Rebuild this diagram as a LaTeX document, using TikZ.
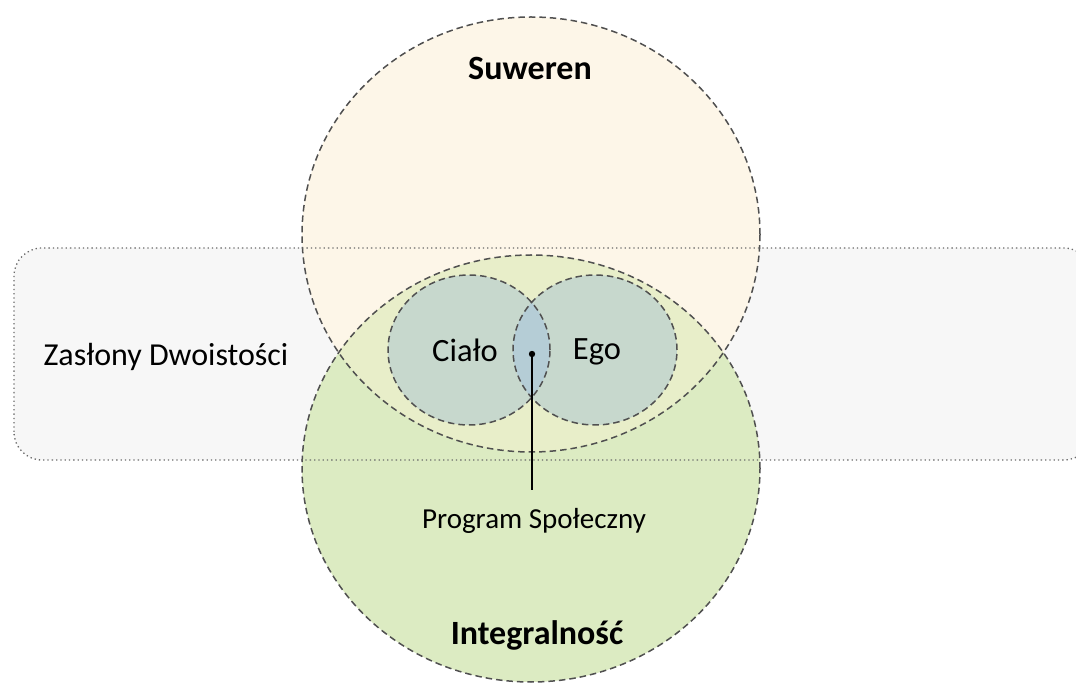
\documentclass[tikz,border=0pt]{standalone}
\usepackage{fontspec}
\setmainfont{Carlito}
\usetikzlibrary{shapes.geometric}

\definecolor{creamfill}{HTML}{FDF6E8}
\definecolor{greenfill}{HTML}{DCEBC2}
\definecolor{mixfill}{HTML}{E8EEC9}
\definecolor{innerfill}{HTML}{C7D8CD}
\definecolor{lensfill}{HTML}{B5CDD6}
\definecolor{veilfill}{HTML}{F7F7F7}
\definecolor{edgegray}{HTML}{505050}
\definecolor{veilgray}{HTML}{6A6A6A}

\tikzset{
  dashedge/.style={draw=edgegray, line width=1.5pt, dash pattern=on 6.5pt off 4pt},
  veiledge/.style={draw=veilgray, line width=1.3pt, dash pattern=on 1.3pt off 3pt},
  biglabel/.style={font=\fontsize{34}{40}\selectfont\bfseries, inner sep=0pt},
  midlabel/.style={font=\fontsize{32.5}{38}\selectfont, inner sep=0pt},
  veillabel/.style={font=\fontsize{32}{38}\selectfont, inner sep=0pt},
  smalllabel/.style={font=\fontsize{29}{34}\selectfont, inner sep=0pt},
}

\begin{document}
\begin{tikzpicture}[x=1pt, y=1pt]
\useasboundingbox (0,0) rectangle (1076,683);
\clip (0,0) rectangle (1076,683);

% veil band (fill only, its outline goes on top later)
\fill[veilfill, rounded corners=28pt] (14,223) rectangle (1092,435);

% the two large ellipses
\fill[creamfill] (531,448.5) ellipse [x radius=229, y radius=217.5];
\fill[greenfill] (531,214.5) ellipse [x radius=229, y radius=213.5];
\begin{scope}
  \clip (531,448.5) ellipse [x radius=229, y radius=217.5];
  \fill[mixfill] (531,214.5) ellipse [x radius=229, y radius=213.5];
\end{scope}

% inner circles and their lens
\fill[innerfill] (469,333) ellipse [x radius=81, y radius=75];
\fill[innerfill] (595,333) ellipse [x radius=82, y radius=75];
\begin{scope}
  \clip (469,333) ellipse [x radius=81, y radius=75];
  \fill[lensfill] (595,333) ellipse [x radius=82, y radius=75];
\end{scope}

% outlines
\node[ellipse, dashedge, minimum width=458pt, minimum height=435pt, inner sep=0pt] (suw) at (531,448.5) {};
\node[ellipse, dashedge, minimum width=458pt, minimum height=427pt, inner sep=0pt] (integ) at (531,214.5) {};
\node[ellipse, dashedge, minimum width=162pt, minimum height=150pt, inner sep=0pt] (cialo) at (469,333) {};
\node[ellipse, dashedge, minimum width=164pt, minimum height=150pt, inner sep=0pt] (ego) at (595,333) {};
\draw[veiledge, rounded corners=28pt] (14,223) rectangle (1092,435);

% labels
\node[biglabel] (tsuw) at (530,615) {Suweren};
\node[biglabel] (tinteg) at (537,48) {Integralność};
\node[veillabel] (tveil) at (166,326) {Zasłony Dwoistości};
\node[midlabel] (tcialo) at (465,333) {Ciało};
\node[midlabel] (tego) at (597,331) {Ego};
\node[smalllabel, anchor=north] (tprog) at (534,175) {Program Społeczny};

% pointer from the lens to its label
\fill[black] (532,329) circle (3.2pt) coordinate (dot);
\coordinate (lineend) at (532,193);
\draw[black, line width=1.5pt] (dot) -- (lineend);
\end{tikzpicture}
\end{document}
